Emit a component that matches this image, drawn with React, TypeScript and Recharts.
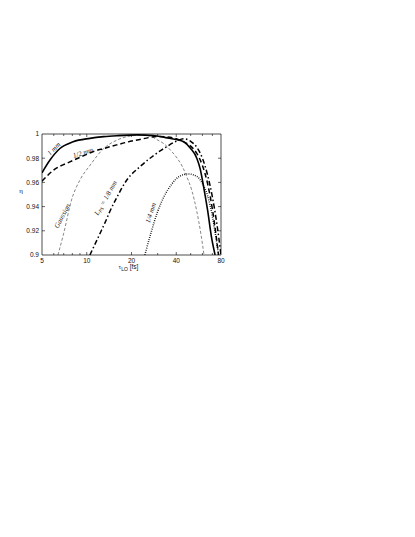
import React from "react";
import {
  LineChart,
  Line,
  XAxis,
  YAxis,
  ReferenceArea,
  ReferenceLine,
  ReferenceDot,
} from "recharts";

// ---- Axis ticks -------------------------------------------------------------
const xTicks = [5, 10, 20, 40, 80];
const xMinorTicks = [6, 7, 8, 9, 30, 50, 60, 70];
const yTicks = [0.9, 0.92, 0.94, 0.96, 0.98, 1];

// ---- Series (tau_LO in fs, efficiency eta) ----------------------------------
const mm1T = [5, 5.66, 6.6, 8.1, 10.5, 13, 16, 22, 28, 34, 40, 45, 50, 55, 58, 61, 65, 69, 73];
const mm1Eta = [0.968, 0.9785, 0.988, 0.9936, 0.9964, 0.9978, 0.9986, 0.9993, 0.9988, 0.997, 0.9955, 0.9935, 0.988, 0.98, 0.971, 0.957, 0.937, 0.915, 0.9];

const mmHalfT = [5, 5.96, 7.7, 9.5, 11.1, 13, 15.9, 19, 22.8, 26, 29.5, 35, 40, 45, 50, 55, 60, 65, 70, 74, 77];
const mmHalfEta = [0.961, 0.97, 0.977, 0.982, 0.9855, 0.988, 0.991, 0.9935, 0.9955, 0.997, 0.998, 0.9975, 0.996, 0.9935, 0.99, 0.984, 0.974, 0.959, 0.938, 0.917, 0.9];

const gaussT = [6.4, 7, 7.9, 9, 10.5, 13, 16, 19, 23, 27, 30, 33, 37, 40, 44, 47, 51, 55, 58.5, 61.5];
const gaussEta = [0.9, 0.918, 0.9455, 0.962, 0.974, 0.988, 0.995, 0.998, 0.999, 0.998, 0.995, 0.992, 0.986, 0.981, 0.973, 0.965, 0.953, 0.936, 0.918, 0.9];

const ps8T = [10.5, 12.3, 13.3, 14.3, 16, 18.6, 22.8, 28, 34, 40, 45, 50, 55, 60, 65, 70, 75, 80];
const ps8Eta = [0.9, 0.918, 0.927, 0.936, 0.948, 0.962, 0.973, 0.982, 0.989, 0.994, 0.996, 0.994, 0.989, 0.98, 0.966, 0.948, 0.926, 0.9];

const mmQuarterT = [24.6, 27, 30, 33, 37, 42, 48, 55, 60, 65, 70, 74, 77];
const mmQuarterEta = [0.9, 0.918, 0.936, 0.948, 0.958, 0.965, 0.967, 0.965, 0.959, 0.949, 0.932, 0.914, 0.9];

// ---- In-plot curve labels ---------------------------------------------------
const labelText = ["1 mm", "1/2 mm", "Gaussian", "PS", "1/4 mm"];
const labelT = [6.02, 9.44, 6.87, 13.47, 27.04];
const labelEta = [0.9876, 0.9843, 0.9322, 0.9471, 0.9347];
const labelAngle = [-45, -18, -62, -60, -72];

const toPoints = (t: number[], eta: number[]) => t.map((v, i) => ({ t: v, eta: eta[i] }));

// plot box in px, used only to size the tick marks
const PLOT_W = 179;
const PLOT_H = 121;
const yPerPx = 0.1 / PLOT_H;
const xPerPx = Math.pow(80 / 5, 1 / PLOT_W);

const serif = "'Liberation Serif', 'DejaVu Serif', serif";
const sans = "'Liberation Sans', Arial, sans-serif";

const CurveLabel = (text: string, angle: number) => (props: any) => {
  const vb = props.viewBox || {};
  const cx = (vb.x ?? 0) + (vb.width ?? 0) / 2;
  const cy = (vb.y ?? 0) + (vb.height ?? 0) / 2;
  return (
    <text
      x={cx}
      y={cy}
      transform={`rotate(${angle} ${cx} ${cy})`}
      textAnchor="middle"
      dominantBaseline="central"
      fontFamily={serif}
      fontStyle="italic"
      fontSize={7}
      fill="#222"
    >
      {text === "PS" ? (
        <>
          <tspan>L</tspan>
          <tspan fontSize={5} dy={1.5}>PS</tspan>
          <tspan dy={-1.5}> = 1/8 mm</tspan>
        </>
      ) : (
        text
      )}
    </text>
  );
};

export default function App() {
  const tickSegs: { x1: number; y1: number; x2: number; y2: number }[] = [];
  [...xTicks.slice(1, -1), ...xMinorTicks].forEach((v) => {
    const len = xTicks.includes(v) ? 3 : 2;
    tickSegs.push({ x1: v, y1: 0.9, x2: v, y2: 0.9 + len * yPerPx });
    tickSegs.push({ x1: v, y1: 1, x2: v, y2: 1 - len * yPerPx });
  });
  yTicks.slice(1, -1).forEach((v) => {
    tickSegs.push({ x1: 5, y1: v, x2: 5 * Math.pow(xPerPx, 3), y2: v });
    tickSegs.push({ x1: 80, y1: v, x2: 80 / Math.pow(xPerPx, 3), y2: v });
  });

  return (
    <div style={{ position: "absolute", left: 0, top: 0, background: "#fff" }}>
      <LineChart
        width={415}
        height={537}
        margin={{ top: 134, right: 194, bottom: 252, left: 2 }}
      >
        <XAxis
          dataKey="t"
          type="number"
          scale="log"
          domain={[5, 80]}
          ticks={xTicks}
          allowDataOverflow
          height={30}
          axisLine={false}
          tickLine={false}
          tickSize={0}
          tickMargin={3}
          tick={{ fontSize: 6.5, fill: "#111", fontFamily: sans }}
          label={{
            content: (p: any) => {
              const vb = p.viewBox || {};
              const cx = vb.x + vb.width / 2 - 3;
              const cy = vb.y + 14;
              return (
                <text x={cx} y={cy} textAnchor="middle" fontFamily={sans} fontSize={6.5} fill="#111">
                  <tspan fontFamily={serif}>τ</tspan>
                  <tspan fontSize={5} dy={1.5}>LO</tspan>
                  <tspan dy={-1.5}> [fs]</tspan>
                </text>
              );
            },
          }}
        />
        <YAxis
          type="number"
          domain={[0.9, 1]}
          ticks={yTicks}
          allowDataOverflow
          width={40}
          axisLine={false}
          tickLine={false}
          tickSize={0}
          tickMargin={3}
          tickFormatter={(v: number) => (v === 1 ? "1" : String(Number(v.toFixed(2))))}
          tick={{ fontSize: 6.5, fill: "#111", fontFamily: sans }}
          label={{
            content: (p: any) => {
              const vb = p.viewBox || {};
              return (
                <text x={vb.x + 19} y={vb.y + vb.height / 2 - 2} textAnchor="middle" fontFamily={serif} fontSize={7} fill="#111">
                  η
                </text>
              );
            },
          }}
        />

        <ReferenceArea x1={5} x2={80} y1={0.9} y2={1} fill="none" fillOpacity={0} stroke="#000" strokeWidth={0.7} />
        {tickSegs.map((s, i) => (
          <ReferenceLine
            key={`tk-${i}`}
            segment={[{ x: s.x1, y: s.y1 }, { x: s.x2, y: s.y2 }]}
            stroke="#000"
            strokeWidth={0.6}
            ifOverflow="visible"
          />
        ))}

        <Line
          data={toPoints(gaussT, gaussEta)}
          dataKey="eta"
          type="monotone"
          stroke="#333"
          strokeWidth={0.6}
          strokeDasharray="3 2"
          dot={false}
          isAnimationActive={false}
        />
        <Line
          data={toPoints(mmQuarterT, mmQuarterEta)}
          dataKey="eta"
          type="monotone"
          stroke="#000"
          strokeWidth={1.5}
          strokeDasharray="0.8 1.4"
          dot={false}
          isAnimationActive={false}
        />
        <Line
          data={toPoints(ps8T, ps8Eta)}
          dataKey="eta"
          type="monotone"
          stroke="#000"
          strokeWidth={1.5}
          strokeDasharray="5 2.5 1.5 2.5"
          dot={false}
          isAnimationActive={false}
        />
        <Line
          data={toPoints(mmHalfT, mmHalfEta)}
          dataKey="eta"
          type="monotone"
          stroke="#000"
          strokeWidth={1.5}
          strokeDasharray="5 3"
          dot={false}
          isAnimationActive={false}
        />
        <Line
          data={toPoints(mm1T, mm1Eta)}
          dataKey="eta"
          type="monotone"
          stroke="#000"
          strokeWidth={1.6}
          dot={false}
          isAnimationActive={false}
        />

        {labelText.map((txt, i) => (
          <ReferenceDot
            key={`lb-${i}`}
            x={labelT[i]}
            y={labelEta[i]}
            r={0}
            fill="none"
            stroke="none"
            label={{ content: CurveLabel(txt, labelAngle[i]) }}
          />
        ))}
      </LineChart>
    </div>
  );
}
